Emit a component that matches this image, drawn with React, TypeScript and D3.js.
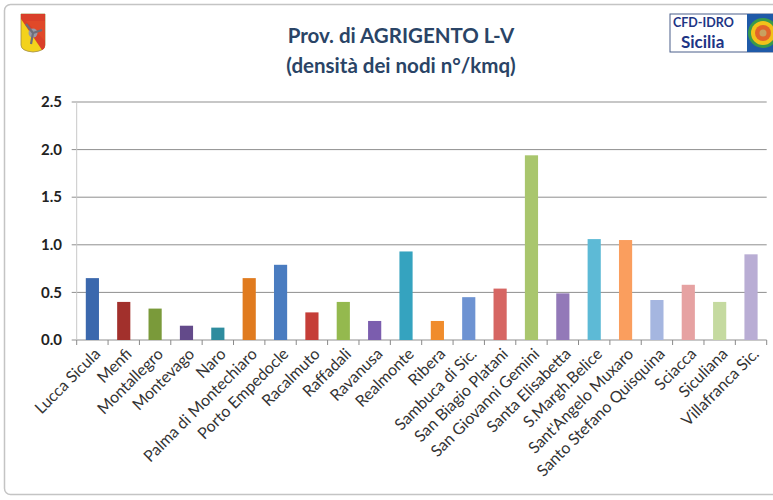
import React from "react";
import * as d3 from "d3";

const categories = [
  "Lucca Sicula", "Menfi", "Montallegro", "Montevago", "Naro",
  "Palma di Montechiaro", "Porto Empedocle", "Racalmuto", "Raffadali", "Ravanusa",
  "Realmonte", "Ribera", "Sambuca di Sic.", "San Biagio Platani", "San Giovanni Gemini",
  "Santa Elisabetta", "S.Margh.Belice", "Sant'Angelo Muxaro", "Santo Stefano Quisquina",
  "Sciacca", "Siculiana", "Villafranca Sic.",
];
const values = [
  0.65, 0.40, 0.33, 0.15, 0.13,
  0.65, 0.79, 0.29, 0.40, 0.20,
  0.93, 0.20, 0.45, 0.54, 1.94,
  0.49, 1.06, 1.05, 0.42,
  0.58, 0.40, 0.90,
];
const colors = [
  "#3B68AD", "#A2302C", "#7A9A3A", "#634A8A", "#2E8C9E",
  "#E07B1F", "#4A7CC0", "#C53E38", "#94B94E", "#7B5DAE",
  "#35A3BF", "#F08C2C", "#6E93D2", "#D66663", "#A9C66D",
  "#9379B8", "#5DBAD6", "#FA9E5E", "#A5B6E0",
  "#E6A2A2", "#C5DAA0", "#B9ADD4",
];
const yTicks = [0, 0.5, 1.0, 1.5, 2.0, 2.5];
const titleLines = ["Prov. di AGRIGENTO L-V", "(densità dei nodi n°/kmq)"];

const W = 773, H = 500;
const left = 76.7, right = 766.7, top = 102, bottom = 340;

export default function App() {
  const x = d3.scaleBand<string>().domain(categories).range([left, right]).paddingInner(0.58).paddingOuter(0.29);
  const xb = d3.scaleBand<string>().domain(categories).range([left, right]);
  const y = d3.scaleLinear().domain([0, 2.5]).range([bottom, top]);
  const font = "Lato, 'Open Sans', sans-serif";
  const boundaries = [...categories.map((c) => xb(c) as number), right];

  return (
    <div style={{ position: "absolute", left: 0, top: 0 }}>
      <svg width={W} height={H} style={{ display: "block", background: "#fff" }}>
        <rect x={4.5} y={4.5} width={790} height={490} rx={6} fill="#fff" stroke="#c4c4c4" strokeWidth={1.5} />

        {/* Sicily logo */}
        <g transform="translate(21,14)">
          <path d="M0,0 H24 V31 Q24,37 12,38 Q0,37 0,31 Z" fill="#F3D21C" stroke="#a08a40" strokeWidth={0.8} />
          <path d="M0,0 H24 V31 Q24,35 21,36 L0,5 Z" fill="#D8332A" opacity={0.92} />
          <path d="M5,7 H24 V27 Z" fill="#E5502A" opacity={0.6} />
          <circle cx={12} cy={19} r={4.5} fill="#9a9aa5" />
          <path d="M12,19 L5,10 M12,19 L21,16 M12,19 L10,30" stroke="#6d6d7a" strokeWidth={2.2} />
        </g>

        {/* CFD-IDRO logo */}
        <g transform="translate(670,14)">
          <rect x={0} y={0} width={110} height={38} fill="#fff" stroke="#4a5f8a" strokeWidth={1} />
          <text x={3} y={12.5} fontFamily={font} fontWeight={700} fontSize={12.5} fill="#1d3585">CFD-IDRO</text>
          <text x={11} y={34} fontFamily={font} fontWeight={700} fontSize={17} fill="#1d3585">Sicilia</text>
          <rect x={77} y={0} width={33} height={38} fill="#1f5aa8" />
          <circle cx={93} cy={19} r={15} fill="#3a9a4a" />
          <circle cx={93} cy={19} r={12} fill="#f2c21a" />
          <circle cx={93} cy={19} r={8} fill="#e2642a" />
          <circle cx={93} cy={19} r={3.5} fill="#c8a060" />
        </g>

        {/* Title */}
        {titleLines.map((t, i) => (
          <text key={i} x={401} y={43 + i * 30} textAnchor="middle" fontFamily={font} fontWeight={700}
            fontSize={20.5} fill="#2a4466">{t}</text>
        ))}

        {/* gridlines */}
        {yTicks.map((t) => (
          <g key={t}>
            <line x1={left - 5} x2={right} y1={y(t)} y2={y(t)} stroke="#8f8f8f" strokeWidth={1} />
            <text x={62} y={y(t)} dy="0.35em" textAnchor="end" fontFamily={font} fontWeight={700}
              fontSize={15} fill="#222">{t.toFixed(1)}</text>
          </g>
        ))}
        <line x1={left} x2={left} y1={top} y2={bottom} stroke="#c8c8c8" strokeWidth={1} />

        {/* x ticks */}
        {boundaries.map((bx, i) => (
          <line key={i} x1={bx} x2={bx} y1={bottom} y2={bottom + 5} stroke="#8a8a8a" strokeWidth={1} />
        ))}

        {/* bars */}
        {categories.map((c, i) => (
          <rect key={c} x={x(c)} y={y(values[i])} width={x.bandwidth()} height={y(0) - y(values[i])} fill={colors[i]} />
        ))}

        {/* x labels */}
        {categories.map((c) => {
          const cx = (xb(c) as number) + xb.bandwidth() / 2 + 5;
          return (
            <text key={c} transform={`translate(${cx},${bottom + 11}) rotate(-45)`} textAnchor="end"
              dy="0.35em" fontFamily={font} fontSize={16} fill="#333">{c}</text>
          );
        })}
      </svg>
    </div>
  );
}
